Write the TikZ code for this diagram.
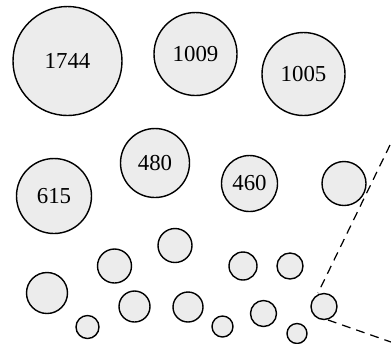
\documentclass[tikz,border=0pt]{standalone}
\usepackage{fontspec}
\setmainfont{Liberation Serif}
\begin{document}
\begin{tikzpicture}[x=0.02cm,y=-0.02cm,line width=0.8pt]
    \tikzset{ball/.style={circle,draw,fill=gray!15,inner sep=0pt,font=\fontsize{13}{13}\selectfont}}
    \useasboundingbox (0,0) rectangle (391,343);
    \node[ball,minimum size=109*0.02cm] (c1744) at (67.5,61){1744};
    \node[ball,minimum size=83*0.02cm] (c1009) at (195.5,54){1009};
    \node[ball,minimum size=83*0.02cm] (c1005) at (303.5,74){1005};
    \node[ball,minimum size=75*0.02cm] (c615) at (54,196){615};
    \node[ball,minimum size=69*0.02cm] (c480) at (155,163){480};
    \node[ball,minimum size=56*0.02cm] (c460) at (249.5,183.5){460};
    \node[ball,minimum size=44*0.02cm] (a) at (344,183.5){};
    \node[ball,minimum size=34*0.02cm] (b) at (175,245.5){};
    \node[ball,minimum size=34*0.02cm] (c) at (114.5,266){};
    \node[ball,minimum size=41*0.02cm] (d) at (47,293){};
    \node[ball,minimum size=28*0.02cm] (e) at (243,266){};
    \node[ball,minimum size=26*0.02cm] (f) at (290,266){};
    \node[ball,minimum size=31*0.02cm] (g) at (134.5,306.5){};
    \node[ball,minimum size=30*0.02cm] (h) at (188,307){};
    \node[ball,minimum size=23*0.02cm] (i) at (87.5,327){};
    \node[ball,minimum size=21*0.02cm] (j) at (222.5,326.5){};
    \node[ball,minimum size=26*0.02cm] (k) at (263.5,313.5){};
    \node[ball,minimum size=20*0.02cm] (l) at (297,333.5){};
    \node[ball,minimum size=26*0.02cm] (m) at (324,306.5){};
    \coordinate (p1) at (390,145);
    \coordinate (p2) at (318,293);
    \coordinate (p3) at (328,320);
    \coordinate (p4) at (391,342);
    \draw[dashed,line width=0.7pt,dash pattern=on 5pt off 3.5pt](p1) -- (p2);
    \draw[dashed,line width=0.7pt,dash pattern=on 5pt off 3.5pt](p3) -- (p4);
\end{tikzpicture}
\end{document}
